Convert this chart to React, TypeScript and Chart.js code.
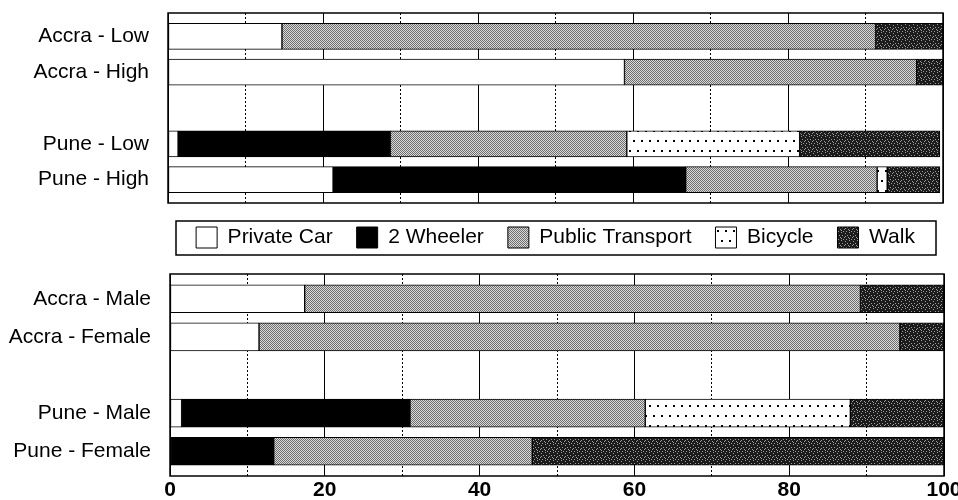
import { useEffect, useRef } from 'react';
import { Chart, registerables } from 'chart.js';

Chart.register(...registerables);

const FONT = "'Liberation Sans', Arial, Helvetica, sans-serif";

// Series (legend order)
const seriesNames = ['Private Car', '2 Wheeler', 'Public Transport', 'Bicycle', 'Walk'];

// Top panel: income groups
const topRows = ['Accra - Low', 'Accra - High', '', 'Pune - Low', 'Pune - High'];
const topCar = [14.7, 58.9, null, 1.3, 21.3];
const topTwoWheeler = [0, 0, null, 27.4, 45.5];
const topPublic = [76.6, 37.7, null, 30.5, 24.7];
const topBicycle = [0, 0, null, 22.3, 1.3];
const topWalk = [8.7, 3.4, null, 18.1, 6.8];

// Bottom panel: gender
const bottomRows = ['Accra - Male', 'Accra - Female', '', 'Pune - Male', 'Pune - Female'];
const bottomCar = [17.4, 11.5, null, 1.5, 0];
const bottomTwoWheeler = [0, 0, null, 29.5, 13.4];
const bottomPublic = [71.8, 82.8, null, 30.4, 33.4];
const bottomBicycle = [0, 0, null, 26.5, 0];
const bottomWalk = [10.8, 5.7, null, 12.1, 53.2];

const xTickStep = 20;
const xMinorStep = 10;

function makeTile(w: number, h: number, draw: (g: CanvasRenderingContext2D) => void) {
  const c = document.createElement('canvas');
  c.width = w;
  c.height = h;
  const g = c.getContext('2d')!;
  draw(g);
  return g.createPattern(c, 'repeat')!;
}

function makeFills(bikePhase: number) {
  const publicT = makeTile(4, 4, (g) => {
    g.fillStyle = '#dcdcdc';
    g.fillRect(0, 0, 4, 4);
    g.fillStyle = '#6c6c6c';
    for (let y = 0; y < 4; y++) for (let x = 0; x < 4; x++) if ((x + y) % 2 === 0) g.fillRect(x, y, 1, 1);
  });
  const walk = makeTile(8, 8, (g) => {
    g.fillStyle = '#1c1c1c';
    g.fillRect(0, 0, 8, 8);
    g.fillStyle = '#9c9c9c';
    const pts = [[1, 0], [5, 1], [2, 3], [7, 3], [0, 5], [4, 5], [6, 7], [3, 7], [5, 4], [1, 6]];
    pts.forEach(([x, y]) => g.fillRect(x, y, 1, 1));
  });
  const bike = makeTile(8, 20, (g) => {
    g.fillStyle = '#ffffff';
    g.fillRect(0, 0, 8, 20);
    g.fillStyle = '#000000';
    g.fillRect(1, bikePhase % 20, 2, 2);
    g.fillRect(5, (bikePhase + 10) % 20, 2, 2);
  });
  return ['#ffffff', '#000000', publicT, bike, walk];
}

const framePlugin = {
  id: 'frame',
  afterDatasetsDraw(chart: any) {
    const { ctx, chartArea: a } = chart;
    ctx.save();
    ctx.strokeStyle = '#000';
    ctx.lineWidth = 1.5;
    ctx.strokeRect(a.left, a.top, a.right - a.left, a.bottom - a.top);
    ctx.restore();
  },
};

const LEGEND_PAD = 24;
const LEGEND_BOX = 21;

const legendFramePlugin = {
  id: 'legendFrame',
  afterDraw(chart: any) {
    const lg = chart.legend;
    if (!lg || !lg.options.display) return;
    const { ctx, chartArea: a } = chart;
    const top = lg.top + LEGEND_PAD - 6;
    ctx.save();
    ctx.strokeStyle = '#000';
    ctx.lineWidth = 1.5;
    ctx.strokeRect(a.left + 8, top, a.right - a.left - 15, LEGEND_BOX + 13);
    ctx.restore();
  },
};

function buildConfig(rows: string[], values: (number | null)[][], o: {
  yWidth: number; padTop: number; padRight: number; barThickness: number; showX: boolean; legend: boolean; bikePhase: number;
}): any {
  const fills = makeFills(o.bikePhase);
  return {
    type: 'bar',
    data: {
      labels: rows.map((_, i) => i),
      datasets: seriesNames.map((name, i) => ({
        label: name,
        data: values[i],
        backgroundColor: fills[i],
        borderColor: '#000',
        borderWidth: 1,
        borderSkipped: false,
        barThickness: o.barThickness,
        xAxisID: 'x',
        yAxisID: 'y',
      })),
    },
    options: {
      indexAxis: 'y',
      responsive: false,
      devicePixelRatio: 1,
      animation: false,
      layout: { padding: { top: o.padTop, right: o.padRight, left: 0, bottom: 0 } },
      plugins: {
        tooltip: { enabled: false },
        legend: {
          display: o.legend,
          position: 'bottom',
          fullSize: false,
          align: 'center',
          labels: {
            boxWidth: LEGEND_BOX,
            boxHeight: LEGEND_BOX,
            padding: LEGEND_PAD,
            color: '#000',
            font: { family: FONT, size: 21 },
          },
        },
      },
      scales: {
        x: {
          type: 'linear',
          position: 'bottom',
          min: 0,
          max: 100,
          stacked: true,
          grid: { color: '#000', lineWidth: 1, drawTicks: false },
          border: { display: false },
          ticks: {
            display: o.showX,
            stepSize: xTickStep,
            padding: 2,
            color: '#000',
            autoSkip: false,
            maxRotation: 0,
            font: { family: FONT, size: 21, weight: 'bold' },
          },
          afterFit: o.showX ? (s: any) => { s.height = 24; } : undefined,
        },
        x2: {
          type: 'linear',
          axis: 'x',
          position: 'bottom',
          min: 0,
          max: 100,
          grid: {
            drawTicks: false,
            lineWidth: 1,
            color: (c: any) => (c.tick && c.tick.value % xTickStep !== 0 ? '#000' : 'rgba(0,0,0,0)'),
          },
          border: { display: false, dash: [2, 2] },
          ticks: { display: false, stepSize: xMinorStep },
        },
        y: {
          type: 'linear',
          reverse: true,
          offset: false,
          min: -0.65,
          max: 4.65,
          bounds: 'data',
          stacked: true,
          grid: { display: false, drawTicks: false, offset: false },
          border: { display: false },
          afterBuildTicks: (s: any) => { s.ticks = rows.map((_, i) => ({ value: i })); },
          afterFit: (s: any) => {
            s.width = o.yWidth;
            s.paddingTop = 0;
            s.paddingBottom = 0;
          },
          ticks: {
            autoSkip: false,
            padding: 19,
            color: '#000',
            font: { family: FONT, size: 21 },
            callback: (v: any) => rows[v as number] ?? '',
          },
        },
      },
    },
    plugins: [framePlugin, legendFramePlugin],
  };
}

export default function App() {
  const topRef = useRef<HTMLCanvasElement>(null);
  const botRef = useRef<HTMLCanvasElement>(null);

  useEffect(() => {
    const top = new Chart(
      topRef.current!,
      buildConfig(topRows, [topCar, topTwoWheeler, topPublic, topBicycle, topWalk], {
        yWidth: 168, padTop: 13, padRight: 15, barThickness: 26, showX: false, legend: true, bikePhase: 0,
      })
    );
    const bottom = new Chart(
      botRef.current!,
      buildConfig(bottomRows, [bottomCar, bottomTwoWheeler, bottomPublic, bottomBicycle, bottomWalk], {
        yWidth: 170, padTop: 14, padRight: 56, barThickness: 28, showX: true, legend: false, bikePhase: 5,
      })
    );
    return () => {
      top.destroy();
      bottom.destroy();
    };
  }, []);

  return (
    <div style={{ position: 'fixed', left: 0, top: 0, width: 958, height: 500, overflow: 'hidden', background: '#fff' }}>
      <canvas ref={topRef} width={958} height={258} style={{ position: 'absolute', left: 0, top: 0, width: 958, height: 258 }} />
      <canvas ref={botRef} width={1000} height={240} style={{ position: 'absolute', left: 0, top: 260, width: 1000, height: 240 }} />
    </div>
  );
}
